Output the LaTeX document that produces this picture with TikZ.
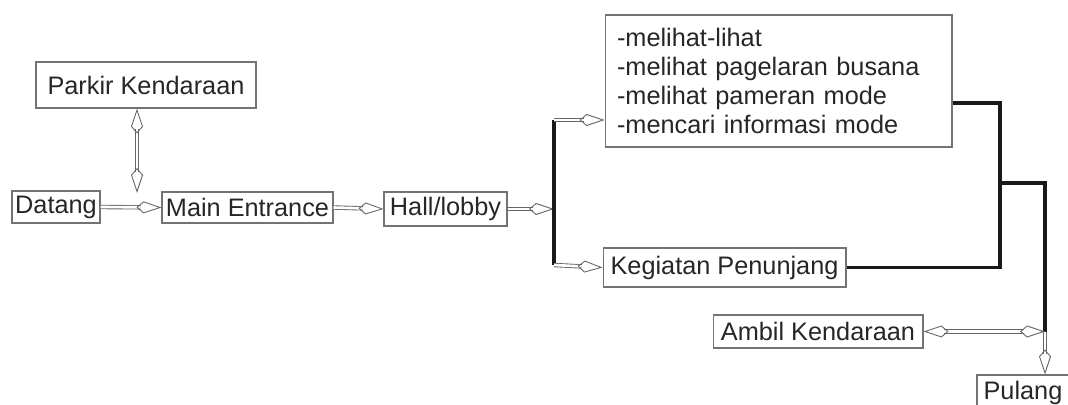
\documentclass[tikz,border=0pt]{standalone}
\usepackage{fontspec}
\setmainfont{Liberation Sans}
\usetikzlibrary{arrows.meta}

\tikzset{
  box/.style={draw=black!55, line width=0.6pt, text=black!85, inner sep=0pt,
    font=\fontsize{14.4}{16.6}\selectfont},
  flow/.style={draw=black!60, line width=0.5pt, double=white,
    double distance=1.5pt, -{Kite[open, length=0.5cm, width=0.24cm, inset=0.14cm]}},
  flowboth/.style={flow, {Kite[open, length=0.5cm, width=0.24cm, inset=0.14cm]}-{Kite[open, length=0.5cm, width=0.24cm, inset=0.14cm]}},
  link/.style={line width=1.8pt, black!90}
}

\begin{document}
\begin{tikzpicture}[x=0.02cm, y=-0.02cm]
  \useasboundingbox (0,0) rectangle (1068,405);

  % boxes
  \node[box, minimum width=4.4cm, minimum height=0.92cm] (parkir) at (146,85) {Parkir Kendaraan};
  \node[box, minimum width=1.76cm, minimum height=0.64cm] (datang) at (56,207) {Datang};
  \node[box, minimum width=3.42cm, minimum height=0.62cm] (entrance) at (247.5,207.5) {Main Entrance};
  \node[box, minimum width=2.46cm, minimum height=0.68cm] (hall) at (445.5,209) {Hall/lobby};
  \node[box, minimum height=2.64cm, text width=6.46cm, inner xsep=0.24cm, align=left] (utama) at (778.5,81)
    {-melihat-lihat\\-melihat pagelaran busana\\-melihat pameran mode\\-mencari informasi mode};
  \node[box, minimum width=4.86cm, minimum height=0.78cm] (penunjang) at (724.5,267.5) {Kegiatan Penunjang};
  \node[box, minimum width=4.2cm, minimum height=0.66cm] (ambil) at (818,331.5) {Ambil Kendaraan};
  \node[box, minimum width=1.84cm, minimum height=0.72cm] (pulang) at (1023,393) {Pulang};

  % junction points
  \coordinate (pk) at (137,193);
  \coordinate (j1) at (554,120);
  \coordinate (j2) at (554,265);
  \coordinate (r1) at (1000,103);
  \coordinate (r2) at (1000,183);
  \coordinate (r3) at (1045,331.5);

  % arrival
  \draw[flowboth] (parkir.south -| pk) -- (pk);
  \draw[flow] (datang.east) -- (entrance.west);
  \draw[flow] (entrance.east) -- (hall.west);
  \draw[flow] (hall.east) -- (hall.east -| j1);

  % split to activities
  \draw[link] (j1) -- (j2);
  \draw[flow] (j1) -- (utama.west |- j1);
  \draw[flow] (j2) -- (penunjang.west);

  % gather back
  \draw[link] (utama.east |- r1) -- (r1) -- (r1 |- penunjang.east) -- (penunjang.east);
  \draw[link] (r2) -- (r2 -| r3) -- (r3);

  % leaving
  \draw[flowboth] (ambil.east) -- (r3);
  \draw[flow] (r3) -- (r3 |- pulang.north);

\end{tikzpicture}
\end{document}
